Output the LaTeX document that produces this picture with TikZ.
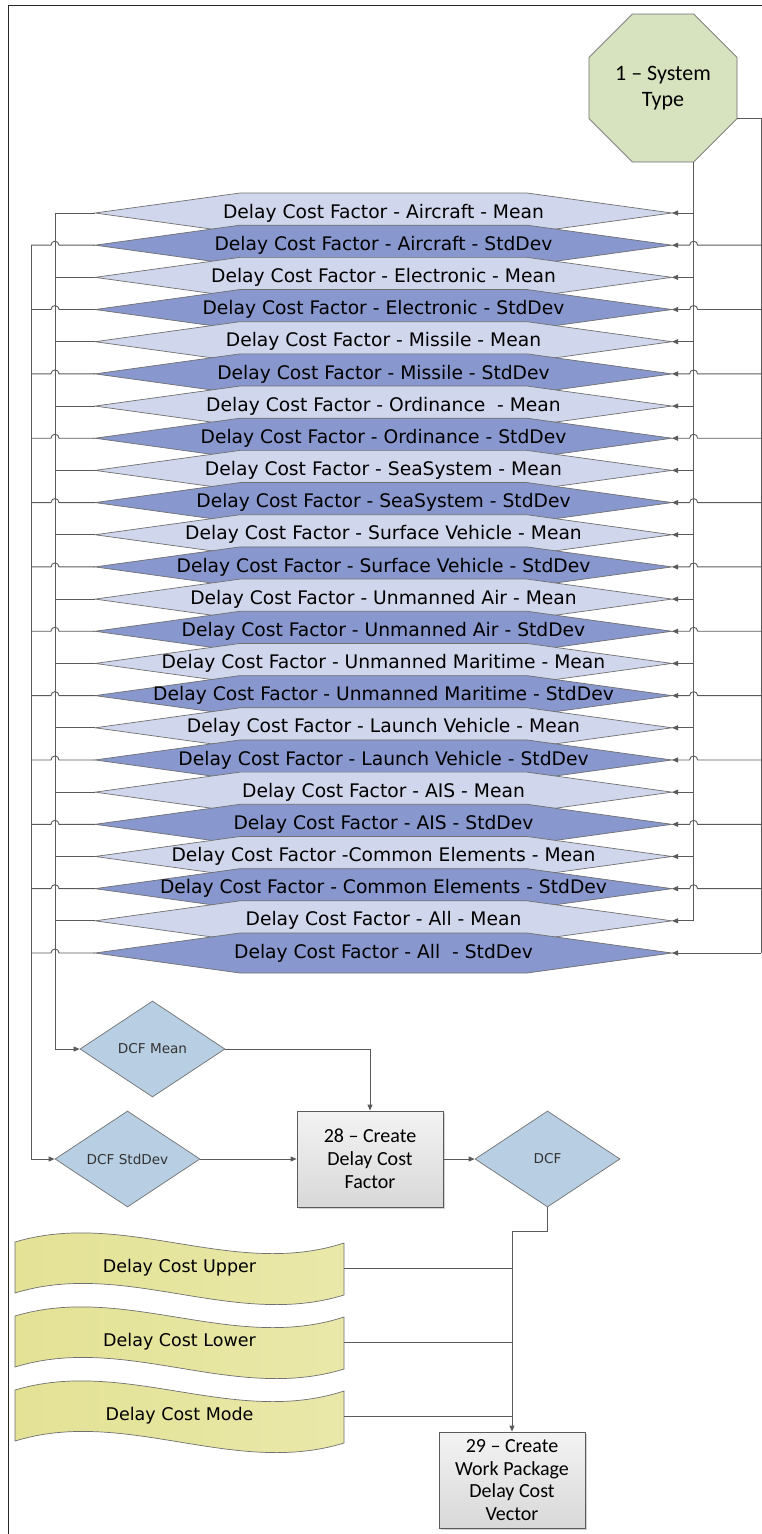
\documentclass[tikz,border=0pt]{standalone}
\usepackage{fontspec}
\setmainfont{DejaVu Sans}
\newfontfamily\calfont{Carlito}
\usetikzlibrary{shapes.geometric,arrows.meta,shadows,calc}

\definecolor{hexlight}{HTML}{D0D6EC}
\definecolor{hexdark}{HTML}{8897CE}
\definecolor{linegray}{HTML}{5A5A5A}
\definecolor{edgegray}{HTML}{707070}
\definecolor{octfill}{HTML}{D7E2BE}
\definecolor{decfill}{HTML}{B8CFE3}
\definecolor{tapeleft}{HTML}{E3E295}
\definecolor{taperight}{HTML}{E9E8A9}
\definecolor{boxtop}{HTML}{F3F3F3}
\definecolor{boxbot}{HTML}{D8D8D8}

\begin{document}
\begin{tikzpicture}[x=1pt,y=-1pt,
  conn/.style={draw=linegray, line width=0.9pt},
  arr/.style={conn, -{Triangle[length=6pt,width=5pt]}},
  hexlightbox/.style={fill=hexlight, draw=edgegray, line width=0.7pt},
  hexdarkbox/.style={fill=hexdark, draw=edgegray, line width=0.7pt},
  rowtext/.style={font=\fontsize{18.7}{22}\selectfont, inner sep=0pt},
  decision/.style={diamond, draw=edgegray, fill=decfill, line width=0.7pt,
    minimum width=145pt, minimum height=96pt, inner sep=0pt,
    font=\fontsize{13.6}{16}\selectfont, text=black!80},
  procbox/.style={rectangle, draw=linegray, line width=0.8pt,
    minimum width=146pt, minimum height=96pt, inner sep=2pt,
    top color=boxtop, bottom color=boxbot,
    drop shadow={shadow xshift=1.5pt, shadow yshift=-1.5pt, opacity=0.35},
    align=center},
  tapebox/.style={left color=tapeleft, right color=taperight, draw=edgegray, line width=0.7pt},
  tapetext/.style={font=\fontsize{17.5}{20}\selectfont, inner sep=0pt},
]
\clip (0,0) rectangle (762,1534);

% page frame
\draw[black!85, line width=1pt] (8,1540) -- (8,5) -- (770,5);

% system type
\node[regular polygon, regular polygon sides=8, minimum size=160.2pt, inner sep=0pt,
      draw=edgegray, fill=octfill, line width=0.7pt, align=center,
      font=\calfont\fontsize{22}{26}\selectfont] (st) at (663,88) {1 – System\\Type};
\coordinate (stB) at ($(st.center)+(30.65,74)$);
\coordinate (stR) at ($(st.center)+(74,30.65)$);

% connector rails
\coordinate (mL) at (55,0);
\coordinate (sL) at (31,0);
\coordinate (sR) at (761,0);

% delay cost factor rows
\foreach \txt [count=\i] in {
  Delay Cost Factor - Aircraft - Mean,
  Delay Cost Factor - Aircraft - StdDev,
  Delay Cost Factor - Electronic - Mean,
  Delay Cost Factor - Electronic - StdDev,
  Delay Cost Factor - Missile - Mean,
  Delay Cost Factor - Missile - StdDev,
  Delay Cost Factor - Ordinance\ \ - Mean,
  Delay Cost Factor - Ordinance - StdDev,
  Delay Cost Factor - SeaSystem - Mean,
  Delay Cost Factor - SeaSystem - StdDev,
  Delay Cost Factor - Surface Vehicle - Mean,
  Delay Cost Factor - Surface Vehicle - StdDev,
  Delay Cost Factor - Unmanned Air - Mean,
  Delay Cost Factor - Unmanned Air - StdDev,
  Delay Cost Factor - Unmanned Maritime - Mean,
  Delay Cost Factor - Unmanned Maritime - StdDev,
  Delay Cost Factor - Launch Vehicle - Mean,
  Delay Cost Factor - Launch Vehicle - StdDev,
  Delay Cost Factor - AIS - Mean,
  Delay Cost Factor - AIS - StdDev,
  Delay Cost Factor -Common Elements - Mean,
  Delay Cost Factor - Common Elements - StdDev,
  Delay Cost Factor - All - Mean,
  Delay Cost Factor - All\ \ - StdDev} {
  \pgfmathsetmacro\y{213+(\i-1)*32.174}
  \ifodd\i
    \path[hexlightbox] (95,\y) -- (240,\y-20) -- (527,\y-20) -- (672,\y) -- (527,\y+20) -- (240,\y+20) -- cycle;
  \else
    \path[hexdarkbox] (95,\y) -- (240,\y-20) -- (527,\y-20) -- (672,\y) -- (527,\y+20) -- (240,\y+20) -- cycle;
  \fi
  \node[rowtext] (r\i) at (383.5,\y) {\txt};
  \coordinate (rW\i) at (95,\y);
  \coordinate (rE\i) at (672,\y);
}

% decisions and processes
\node[decision] (dm) at (152.5,1049) {DCF Mean};
\node[decision] (ds) at (127.5,1159) {DCF StdDev};
\node[decision] (dcf) at (547.5,1159) {DCF};
\node[procbox, font=\calfont\fontsize{20}{23}\selectfont] (b28) at (370,1159) {28 – Create\\Delay Cost\\Factor};
\node[procbox, font=\calfont\fontsize{20}{22.6}\selectfont] (b29) at (512,1480) {29 – Create\\Work Package\\Delay Cost\\Vector};

% tapes
\foreach \t/\lab [count=\k] in {1242/Delay Cost Upper, 1316/Delay Cost Lower, 1390/Delay Cost Mode} {
  \path[tapebox] (15,\t) .. controls (125,\t-33) and (234,\t+37) .. (344,\t+1)
    -- (344,\t+53) .. controls (234,\t+87) and (125,\t+17) .. (15,\t+51) -- cycle;
  \node[tapetext] (tape\k) at (179.5,\t+26) {\lab};
  \coordinate (tapeE\k) at (344,\t+26);
}

% left side: rows to the DCF decisions
\draw[arr] (rW1) -- (rW1 -| mL) |- (dm.west);
\draw[arr] (rW2 -| sL) |- (ds.west);
\foreach \i in {3,5,...,23} {
  \draw[conn] (rW\i) -- (rW\i -| mL);
}
\foreach \i in {2,4,...,24} {
  \draw[conn] (rW\i) -- ($(rW\i -| mL)+(4,0)$) arc[start angle=0,end angle=180,radius=4pt] -- (rW\i -| sL);
}

% right side: system type to rows
\draw[conn] (stB) -- (stB |- rE23);
\draw[conn] (stR) -- (stR -| sR) -- (sR |- rE24);
\foreach \i in {1,3,...,23} {
  \draw[arr] (stB |- rE\i) -- (rE\i);
}
\foreach \i in {2,4,...,22} {
  \draw[arr] (sR |- rE\i) -- ($(stB |- rE\i)+(4,0)$) arc[start angle=0,end angle=180,radius=4pt] -- (rE\i);
}
\draw[arr] (sR |- rE24) -- (rE24);

% process flow
\draw[arr] (dm.east) -| (b28.north);
\draw[arr] (ds.east) -- (b28.west);
\draw[arr] (b28.east) -- (dcf.west);
\draw[arr] (dcf.south) -- ++(0,24) -| (b29.north);
\foreach \k in {1,2,3} {
  \draw[conn] (tapeE\k) -- (tapeE\k -| b29.north);
}
\end{tikzpicture}
\end{document}
